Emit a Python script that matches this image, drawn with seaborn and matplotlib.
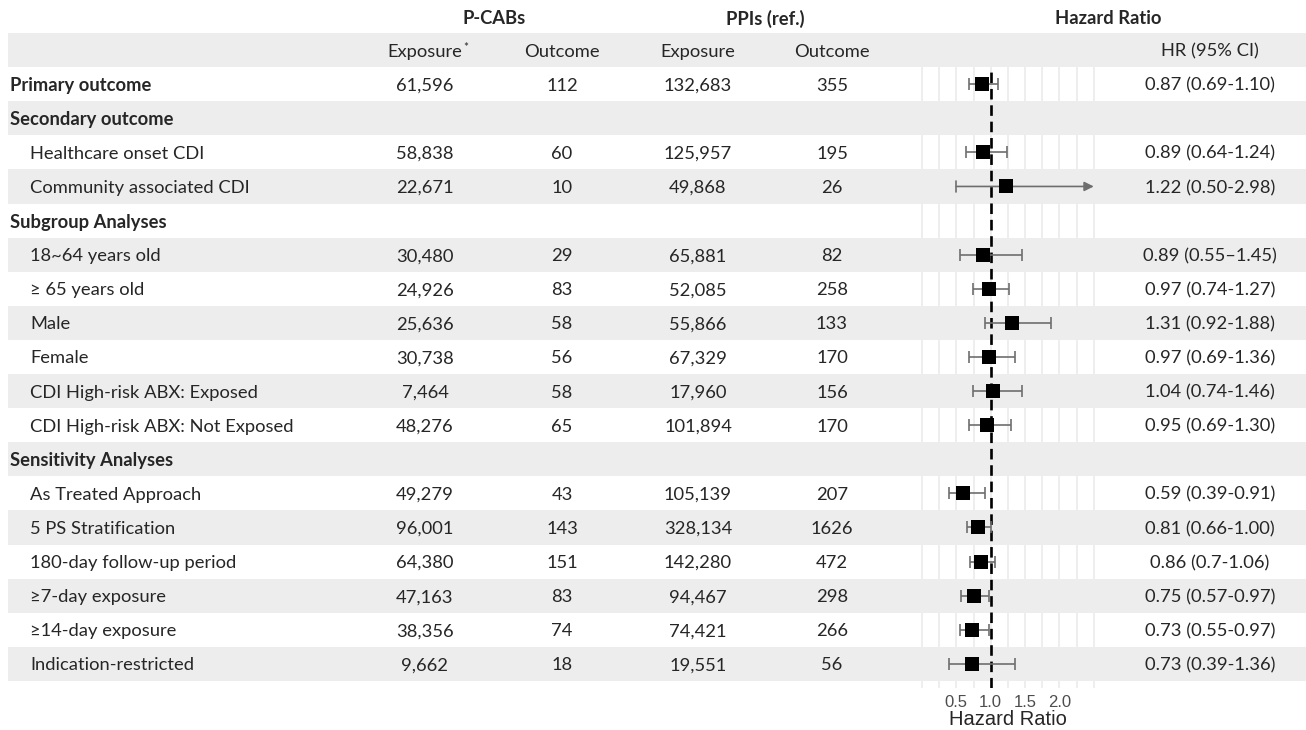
import matplotlib
matplotlib.use("Agg")
import matplotlib.pyplot as plt
import seaborn as sns
import numpy as np
import pandas as pd

# ---- data ----
labels = ["Primary outcome", "Secondary outcome", "Healthcare onset CDI", "Community associated CDI",
          "Subgroup Analyses", "18~64 years old", "\u2265 65 years old", "Male", "Female",
          "CDI High-risk ABX: Exposed", "CDI High-risk ABX: Not Exposed", "Sensitivity Analyses",
          "As Treated Approach", "5 PS Stratification", "180-day follow-up period",
          "\u22657-day exposure", "\u226514-day exposure", "Indication-restricted"]
is_heading = [True, True, False, False, True, False, False, False, False, False, False, True,
              False, False, False, False, False, False]
pcab_exposure = [61596, None, 58838, 22671, None, 30480, 24926, 25636, 30738, 7464, 48276, None,
                 49279, 96001, 64380, 47163, 38356, 9662]
pcab_outcome = [112, None, 60, 10, None, 29, 83, 58, 56, 58, 65, None, 43, 143, 151, 83, 74, 18]
ppi_exposure = [132683, None, 125957, 49868, None, 65881, 52085, 55866, 67329, 17960, 101894, None,
                105139, 328134, 142280, 94467, 74421, 19551]
ppi_outcome = [355, None, 195, 26, None, 82, 258, 133, 170, 156, 170, None, 207, 1626, 472, 298, 266, 56]
hr = [0.87, None, 0.89, 1.22, None, 0.89, 0.97, 1.31, 0.97, 1.04, 0.95, None,
      0.59, 0.81, 0.86, 0.75, 0.73, 0.73]
hr_lo = [0.69, None, 0.64, 0.50, None, 0.55, 0.74, 0.92, 0.69, 0.74, 0.69, None,
         0.39, 0.66, 0.70, 0.57, 0.55, 0.39]
hr_hi = [1.10, None, 1.24, 2.98, None, 1.45, 1.27, 1.88, 1.36, 1.46, 1.30, None,
         0.91, 1.00, 1.06, 0.97, 0.97, 1.36]
hr_text = ["0.87 (0.69-1.10)", "", "0.89 (0.64-1.24)", "1.22 (0.50-2.98)", "",
           "0.89 (0.55\u20131.45)", "0.97 (0.74-1.27)", "1.31 (0.92-1.88)", "0.97 (0.69-1.36)",
           "1.04 (0.74-1.46)", "0.95 (0.69-1.30)", "", "0.59 (0.39-0.91)", "0.81 (0.66-1.00)",
           "0.86 (0.7-1.06)", "0.75 (0.57-0.97)", "0.73 (0.55-0.97)", "0.73 (0.39-1.36)"]
hr_ticks = [0.5, 1.0, 1.5, 2.0]
hr_grid = [0, 0.25, 0.5, 0.75, 1.0, 1.25, 1.5, 1.75, 2.0, 2.25, 2.5]
x_max = 2.5

sns.set_theme(style="white")
plt.rcParams['font.family'] = ['Lato', 'DejaVu Sans']

W, H = 1306, 730
band = "#ededed"
fs = 13.2
va = "center_baseline"

fig = plt.figure(figsize=(W / 100, H / 100), dpi=100)
ax = fig.add_axes([0, 0, 1, 1])
ax.set_xlim(0, W)
ax.set_ylim(H, 0)
ax.axis("off")

top, pitch = 33, 34.1
def row_y(i):
    # i = -1 is the column header row
    return top + pitch * (i + 1.5)

# striped rows
for i in range(-1, len(labels)):
    if i % 2 == 1:
        ax.axhspan(row_y(i) - pitch / 2, row_y(i) + pitch / 2, xmin=8 / W, xmax=1, color=band, lw=0, zorder=0)

# spanning headers
ax.text(494, 17, "P-CABs", ha="center", va=va, fontsize=fs, fontweight="bold")
ax.text(765, 17, "PPIs (ref.)", ha="center", va=va, fontsize=fs, fontweight="bold")
ax.text(1108, 17, "Hazard Ratio", ha="center", va=va, fontsize=fs, fontweight="bold")

# column headers
col_x = [425, 562, 698, 832]
yh = row_y(-1)
t = ax.text(col_x[0], yh, "Exposure", ha="center", va=va, fontsize=fs)
ax.annotate("*", xy=(1, 1), xycoords=t, xytext=(0.8, 1), textcoords="offset points",
            ha="left", va="top", fontsize=8.5)
ax.text(col_x[1], yh, "Outcome", ha="center", va=va, fontsize=fs)
ax.text(col_x[2], yh, "Exposure", ha="center", va=va, fontsize=fs)
ax.text(col_x[3], yh, "Outcome", ha="center", va=va, fontsize=fs)
ax.text(1210, yh, "HR (95% CI)", ha="center", va=va, fontsize=fs)

for i, lab in enumerate(labels):
    y = row_y(i)
    if is_heading[i]:
        ax.text(10, y, lab, ha="left", va=va, fontsize=fs, fontweight="bold")
    else:
        ax.text(30, y, lab, ha="left", va=va, fontsize=fs)
    if pcab_exposure[i] is not None:
        ax.text(col_x[0], y, "{:,}".format(pcab_exposure[i]), ha="center", va=va, fontsize=fs)
        ax.text(col_x[1], y, str(pcab_outcome[i]), ha="center", va=va, fontsize=fs)
        ax.text(col_x[2], y, "{:,}".format(ppi_exposure[i]), ha="center", va=va, fontsize=fs)
        ax.text(col_x[3], y, str(ppi_outcome[i]), ha="center", va=va, fontsize=fs)
        ax.text(1210, y, hr_text[i], ha="center", va=va, fontsize=fs)

# ---- forest panel ----
px0, px1, py0, py1 = 905, 1110, 67, 688
fx = fig.add_axes([px0 / W, 1 - py1 / H, (px1 - px0) / W, (py1 - py0) / H])
fx.patch.set_alpha(0)
unit = 68.7
fx.set_xlim(-(922 - px0) / unit, (px1 - 922) / unit)
n = len(labels)
fx.set_ylim((py1 - row_y(0)) / pitch, (py0 - row_y(0)) / pitch)

for g in hr_grid:
    fx.axvline(g, color="#ebebeb", lw=1.2, zorder=0)
for i in range(n):
    if i % 2 == 1:
        fx.axhspan(i - 0.5, i + 0.5, color=band, lw=0, zorder=1)
fx.axvline(1.0, color="black", ls=(0, (4, 2.2)), lw=1.9, zorder=3)

df = pd.DataFrame({"row": range(n), "hr": hr, "lo": hr_lo, "hi": hr_hi}).dropna()
ci_col = "#6e6e6e"
for _, r in df.iterrows():
    if r.hi > x_max:
        fx.annotate("", xy=(x_max, r.row), xytext=(r.lo, r.row),
                    arrowprops=dict(arrowstyle="-|>", color=ci_col, lw=1.2, mutation_scale=14,
                                    shrinkA=0, shrinkB=0), zorder=4)
        fx.plot([r.lo, r.lo], [r.row - 0.17, r.row + 0.17], color=ci_col, lw=1.2, zorder=4)
    else:
        fx.errorbar(r.hr, r.row, xerr=[[r.hr - r.lo], [r.hi - r.hr]], fmt="none",
                    ecolor=ci_col, elinewidth=1.2, capsize=4, capthick=1.2, zorder=4)
sns.scatterplot(data=df, x="hr", y="row", marker="s", s=105, color="black", edgecolor="black",
                linewidth=0, ax=fx, zorder=5, legend=False)

fx.set_xticks(hr_ticks)
fx.set_xticklabels(["{:.1f}".format(v) for v in hr_ticks], family=["Liberation Sans", "DejaVu Sans"],
                   fontsize=12, color="#4d4d4d")
fx.tick_params(axis="x", length=0, pad=5)
fx.set_yticks([])
fx.set_xlabel("Hazard Ratio", family=["Liberation Sans", "DejaVu Sans"], fontsize=14.5, labelpad=0)
fx.set_ylabel("")
for s in fx.spines.values():
    s.set_visible(False)

fig.savefig("out.png", dpi=100)
